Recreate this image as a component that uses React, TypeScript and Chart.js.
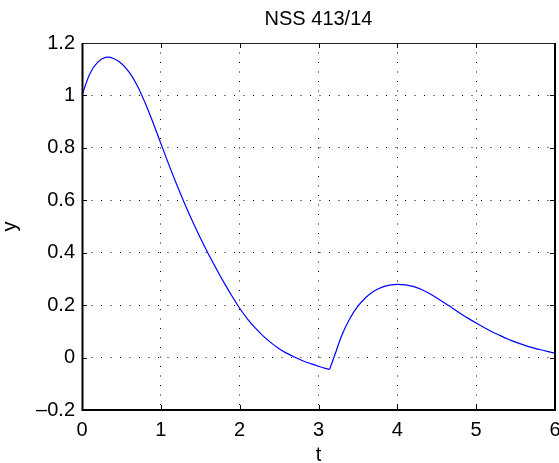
import React, { useEffect, useRef } from "react";
import { Chart, registerables } from "chart.js";

Chart.register(...registerables);

const TITLE = "NSS 413/14";
const X_LABEL = "t";
const Y_LABEL = "y";

const xTicks = [0, 1, 2, 3, 4, 5, 6];
const yTicks = [-0.2, 0, 0.2, 0.4, 0.6, 0.8, 1, 1.2];
const yTickLabels = ["–0.2", "0", "0.2", "0.4", "0.6", "0.8", "1", "1.2"];

const tValues = [
  0.0, 0.1, 0.2, 0.3, 0.4, 0.5, 0.6, 0.7, 0.8, 0.9,
  1.0, 1.1, 1.2, 1.3, 1.4, 1.5, 1.6, 1.7, 1.8, 1.9,
  2.0, 2.1, 2.2, 2.3, 2.4, 2.5, 2.6, 2.7, 2.8, 2.9,
  3.0, 3.1, 3.14, 3.2, 3.3, 3.4, 3.5, 3.6, 3.7, 3.8, 3.9,
  4.0, 4.1, 4.2, 4.3, 4.4, 4.5, 4.6, 4.7, 4.8, 4.9,
  5.0, 5.1, 5.2, 5.3, 5.4, 5.5, 5.6, 5.7, 5.8, 5.9, 6.0,
];
const yValues = [
  1.0, 1.083, 1.127, 1.145, 1.141, 1.122, 1.088, 1.038, 0.972, 0.897,
  0.817, 0.737, 0.661, 0.589, 0.521, 0.457, 0.397, 0.341, 0.287, 0.236,
  0.188, 0.147, 0.112, 0.082, 0.056, 0.034, 0.016, 0.001, -0.012, -0.023,
  -0.033, -0.042, -0.045, 0.004, 0.088, 0.15, 0.196, 0.229, 0.253, 0.268, 0.2765,
  0.2795, 0.2775, 0.2715, 0.2605, 0.2455, 0.2275, 0.2085, 0.1885, 0.1685, 0.1495,
  0.1315, 0.1145, 0.0985, 0.0845, 0.071, 0.059, 0.0485, 0.039, 0.031, 0.0235, 0.017,
];
const KINK_T = 3.14;

const FONT = "'Liberation Sans', Arial, Helvetica, sans-serif";
const FS = 20;

const framePlugin = {
  id: "matlabFrame",
  afterDatasetsDraw(chart: any) {
    const { ctx, chartArea: a, scales } = chart;
    ctx.save();
    const line = (x1: number, y1: number, x2: number, y2: number) => {
      ctx.beginPath();
      ctx.moveTo(x1, y1);
      ctx.lineTo(x2, y2);
      ctx.stroke();
    };
    const L = 5;
    ctx.strokeStyle = "#000";
    ctx.lineWidth = 1;
    xTicks.forEach((v) => {
      const x = Math.round(scales.x.getPixelForValue(v)) + 0.5;
      line(x, a.bottom, x, a.bottom - L);
      line(x, a.top, x, a.top + L);
    });
    yTicks.forEach((v) => {
      const y = Math.round(scales.y.getPixelForValue(v)) + 0.5;
      line(a.left, y, a.left + L, y);
      line(a.right, y, a.right - L, y);
    });
    // frame
    ctx.strokeStyle = "#222";
    ctx.lineWidth = 1.2;
    line(a.left, a.top + 0.5, a.right, a.top + 0.5);
    ctx.strokeStyle = "#000";
    ctx.lineWidth = 2;
    line(a.left + 0.5, a.top, a.left + 0.5, a.bottom + 1);
    line(a.left, a.bottom, a.right + 1, a.bottom);
    line(a.right, a.top, a.right, a.bottom + 1);
    // title
    ctx.font = `${FS}px ${FONT}`;
    ctx.fillStyle = "#000";
    ctx.textAlign = "center";
    ctx.textBaseline = "middle";
    ctx.fillText(TITLE, (a.left + a.right) / 2, 19);
    ctx.restore();
  },
};

export default function App() {
  const ref = useRef<HTMLCanvasElement | null>(null);

  useEffect(() => {
    if (!ref.current) return;
    const pts = tValues.map((t, i) => ({ x: t, y: yValues[i] }));
    const first = pts.filter((p) => p.x <= KINK_T);
    const second = pts.filter((p) => p.x >= KINK_T);
    const ds = (data: any[]) => ({
      data,
      borderColor: "#0000ff",
      borderWidth: 1.2,
      pointRadius: 0,
      fill: false,
      tension: 0.35,
    });
    const chart = new Chart(ref.current, {
      type: "line",
      data: { datasets: [ds(first), ds(second)] },
      options: {
        animation: false,
        responsive: false,
        devicePixelRatio: 1,
        layout: { padding: { top: 43, right: 4, bottom: 0, left: 0 } },
        plugins: {
          legend: { display: false },
          tooltip: { enabled: false },
          title: { display: false },
        },
        scales: {
          x: {
            type: "linear",
            min: 0,
            max: 6,
            afterBuildTicks: (s: any) => {
              s.ticks = xTicks.map((v) => ({ value: v }));
            },
            afterFit: (s: any) => {
              s.height = 53;
              s.paddingLeft = 0;
              s.paddingRight = 0;
            },
            grid: { display: true, color: "#000", lineWidth: 1, drawTicks: false },
            border: { display: false, dash: [1, 8.5] },
            ticks: {
              autoSkip: false,
              maxRotation: 0,
              padding: 8,
              color: "#000",
              font: { family: FONT, size: FS },
              callback: (v: any) => String(v),
            },
            title: {
              display: true,
              text: X_LABEL,
              color: "#000",
              font: { family: FONT, size: FS, lineHeight: 0.8 },
              padding: { top: 0, bottom: 0 },
            },
          },
          y: {
            type: "linear",
            min: -0.2,
            max: 1.2,
            afterBuildTicks: (s: any) => {
              s.ticks = yTicks.map((v) => ({ value: v }));
            },
            afterFit: (s: any) => {
              s.width = 82;
              s.paddingTop = 0;
              s.paddingBottom = 0;
            },
            grid: { display: true, color: "#000", lineWidth: 1, drawTicks: false },
            border: { display: false, dash: [1, 8.5] },
            ticks: {
              autoSkip: false,
              padding: 7,
              color: "#000",
              font: { family: FONT, size: FS },
              callback: (v: any) => {
                let best = 0;
                yTicks.forEach((t, i) => {
                  if (Math.abs(t - v) < Math.abs(yTicks[best] - v)) best = i;
                });
                return yTickLabels[best];
              },
            },
            title: {
              display: true,
              text: Y_LABEL,
              color: "#000",
              font: { family: FONT, size: FS, lineHeight: 0.8 },
              padding: { top: 2, bottom: 0 },
            },
          },
        },
      },
      plugins: [framePlugin],
    });
    return () => chart.destroy();
  }, []);

  return (
    <div style={{ position: "absolute", left: 0, top: 0, width: 559, height: 463, background: "#fff" }}>
      <canvas ref={ref} width={559} height={463} style={{ display: "block" }} />
    </div>
  );
}
